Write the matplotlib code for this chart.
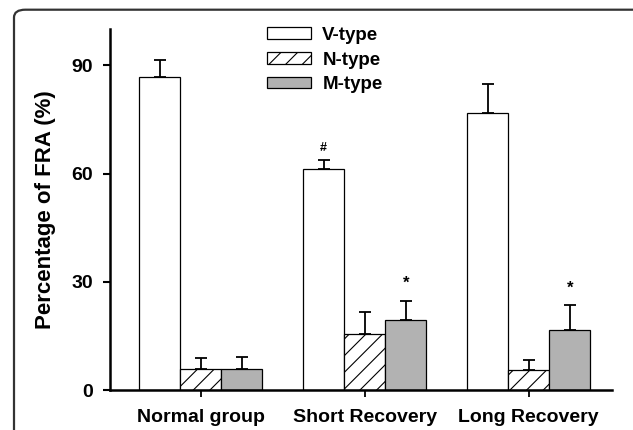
import matplotlib
matplotlib.use("Agg")
import matplotlib.pyplot as plt
from matplotlib.patches import FancyBboxPatch
import numpy as np

plt.rcParams['font.family'] = ['Liberation Sans', 'DejaVu Sans']
plt.rcParams['font.weight'] = 'bold'
plt.rcParams['hatch.linewidth'] = 0.8

groups = ["Normal group", "Short Recovery", "Long Recovery"]
series = ["V-type", "N-type", "M-type"]
v_type = [86.8, 61.3, 76.8]
n_type = [5.9, 15.5, 5.6]
m_type = [5.9, 19.3, 16.7]
v_err = [4.7, 2.5, 7.9]
n_err = [3.1, 6.1, 2.8]
m_err = [3.3, 5.5, 6.8]
marks = [("#", 1, 0, 67.0), ("*", 1, 2, 29.6), ("*", 2, 2, 28.3)]

fig = plt.figure(figsize=(6.33, 4.30), dpi=100)
ax = fig.add_axes([0.1738, 0.093, 0.7926, 0.839])

x = np.arange(len(groups))
w = 0.25
styles = [dict(color="white", hatch=None),
          dict(color="white", hatch="//"),
          dict(color="#b2b2b2", hatch=None)]
vals = [v_type, n_type, m_type]
errs = [v_err, n_err, m_err]
for i in range(3):
    pos = x + (i - 1) * w
    ax.bar(pos, vals[i], w, color=styles[i]["color"], hatch=styles[i]["hatch"],
           edgecolor="black", linewidth=0.9, label=series[i], zorder=2)
    ax.errorbar(pos, vals[i], yerr=[np.zeros(3), errs[i]], fmt="none",
                ecolor="black", elinewidth=1.3, capsize=4.5, capthick=1.3, zorder=3)

for s, g, k, yv in marks:
    ax.text(x[g] + (k - 1) * w, yv, s, ha="center", va="center",
            fontsize=9 if s == "#" else 12, fontweight="bold")

ax.set_xlim(-0.553, 2.506)
ax.set_ylim(0, 100)
ax.set_yticks([0, 30, 60, 90])
ax.set_xticks(x)
ax.set_xticklabels(groups, fontsize=14, fontweight="bold")
ax.tick_params(axis="y", labelsize=14, width=1.5, length=5, pad=7)
ax.tick_params(axis="x", width=1.3, length=5, pad=9)
for lab in ax.get_yticklabels():
    lab.set_fontweight("bold")
ax.spines["top"].set_visible(False)
ax.spines["right"].set_visible(False)
ax.spines["left"].set_linewidth(1.8)
ax.spines["bottom"].set_linewidth(1.8)
ax.set_ylabel("Percentage of FRA (%)", fontsize=16, fontweight="bold", labelpad=11)

leg = ax.legend(loc="upper left", bbox_to_anchor=(0.298, 1.028), frameon=False,
                fontsize=13.5, handlelength=2.35, handleheight=0.55,
                handletextpad=0.6, labelspacing=0.42, borderaxespad=0)
for t in leg.get_texts():
    t.set_fontweight("bold")

frame = FancyBboxPatch((14 / 633, -0.2), 1.0, 1.2 - 9.7 / 430,
                       boxstyle="round,pad=0,rounding_size=0.018",
                       transform=fig.transFigure, fill=False,
                       edgecolor="#333333", linewidth=1.6, zorder=10)
fig.patches.append(frame)

fig.savefig("out.png", dpi=100)
